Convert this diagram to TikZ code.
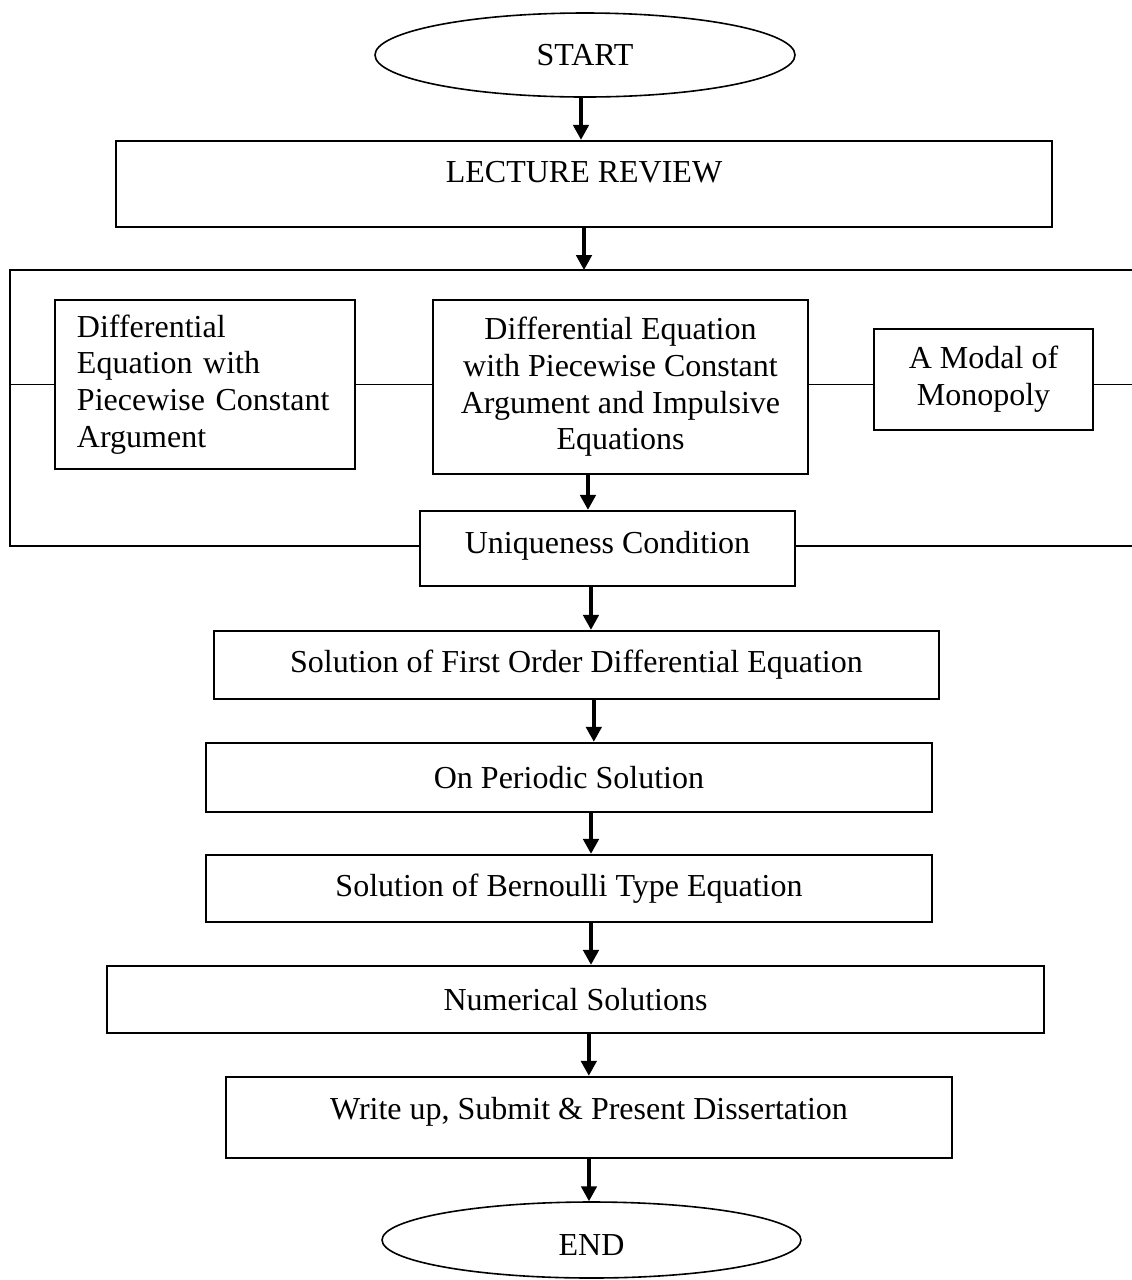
\documentclass[tikz,border=0pt]{standalone}
\usepackage{fontspec}
\setmainfont{Liberation Serif}
\usetikzlibrary{arrows.meta,shapes.geometric}
\tikzset{
  >={Triangle[length=5.6pt,width=5.8pt]},
  stage/.style={draw,line width=0.9pt,inner sep=0pt,align=center,
    font=\fontsize{12}{13.75}\selectfont},
  terminal/.style={ellipse,draw,line width=0.6pt,inner sep=0pt,
    font=\fontsize{12}{13.75}\selectfont},
  flow/.style={->,line width=1.25pt},
  link/.style={line width=0.55pt},
}
\begin{document}
\begin{tikzpicture}[x=0.375pt,y=-0.375pt]
  \useasboundingbox (0,0) rectangle (1132,1280);
  % main column
  \node[terminal,minimum width=157.5pt,minimum height=31.5pt] (start) at (585,55) {START};
  \node[stage,minimum width=351pt,minimum height=32.25pt,text depth=9pt] (lecture) at (584,184) {LECTURE REVIEW};
  % the three topics
  \node[stage,minimum width=112.5pt,minimum height=63.4pt,align=left,text width=96pt,inner xsep=8.25pt] (deq) at (205,384.5)
    {Differential\\Equation with\\Piecewise Constant\\Argument};
  \node[stage,minimum width=140.6pt,minimum height=65.25pt] (deqimp) at (620.5,387)
    {Differential Equation\\with Piecewise Constant\\Argument and Impulsive\\Equations};
  \node[stage,minimum width=82.1pt,minimum height=37.9pt] (monopoly) at (983.5,379.5) {A Modal of\\Monopoly};
  \node[stage,minimum width=140.6pt,minimum height=28.1pt,text depth=4.5pt] (unique) at (607.5,548.5) {Uniqueness Condition};
  % solutions
  \node[stage,minimum width=271.9pt,minimum height=25.5pt] (first) at (576.5,665) {Solution of First Order Differential Equation};
  \node[stage,minimum width=272.25pt,minimum height=25.9pt] (periodic) at (569,777.5) {On Periodic Solution};
  \node[stage,minimum width=272.25pt,minimum height=25.1pt] (bernoulli) at (569,888.5) {Solution of Bernoulli Type Equation};
  \node[stage,minimum width=351.4pt,minimum height=25.1pt] (numeric) at (575.5,999.5) {Numerical Solutions};
  \node[stage,minimum width=272.25pt,minimum height=30.4pt,text depth=6.8pt] (writeup) at (589,1117.5) {Write up, Submit \& Present Dissertation};
  \node[terminal,minimum width=157.1pt,minimum height=28.5pt,text height=11.5pt] (end) at (591.5,1240) {END};
  % frame round the topics
  \coordinate (tl) at (10,270);
  \coordinate (tr) at (1132,270);
  \coordinate (bl) at (10,546);
  \coordinate (br) at (1132,546);
  \draw[link] (tr) -- (tl) -- (bl) -- (bl -| unique.west);
  \draw[link] (unique.east |- br) -- (br);
  \draw[link] (deq.west -| tl) -- (deq.west);
  \draw[link] (deq.east) -- (deq.east -| deqimp.west);
  \draw[link] (deq.east -| deqimp.east) -- (deq.east -| monopoly.west);
  \draw[link] (deq.east -| monopoly.east) -- (deq.east -| tr);
  % arrows
  \draw[flow] ([xshift=-1.5pt]start.south) -- ([xshift=-1.5pt]start.south |- lecture.north);
  \draw[flow] (lecture.south) -- (lecture.south |- tl);
  \draw[flow] ([xshift=-12.2pt]deqimp.south) -- ([xshift=-12.2pt]deqimp.south |- unique.north);
  \draw[flow] ([xshift=-6.2pt]unique.south) -- ([xshift=-6.2pt]unique.south |- first.north);
  \draw[flow] ([xshift=6.5pt]first.south) -- ([xshift=6.5pt]first.south |- periodic.north);
  \draw[flow] ([xshift=8.25pt]periodic.south) -- ([xshift=8.25pt]periodic.south |- bernoulli.north);
  \draw[flow] ([xshift=8.25pt]bernoulli.south) -- ([xshift=8.25pt]bernoulli.south |- numeric.north);
  \draw[flow] ([xshift=5pt]numeric.south) -- ([xshift=5pt]numeric.south |- writeup.north);
  \draw[flow] (writeup.south) -- (writeup.south |- end.north);
\end{tikzpicture}
\end{document}
